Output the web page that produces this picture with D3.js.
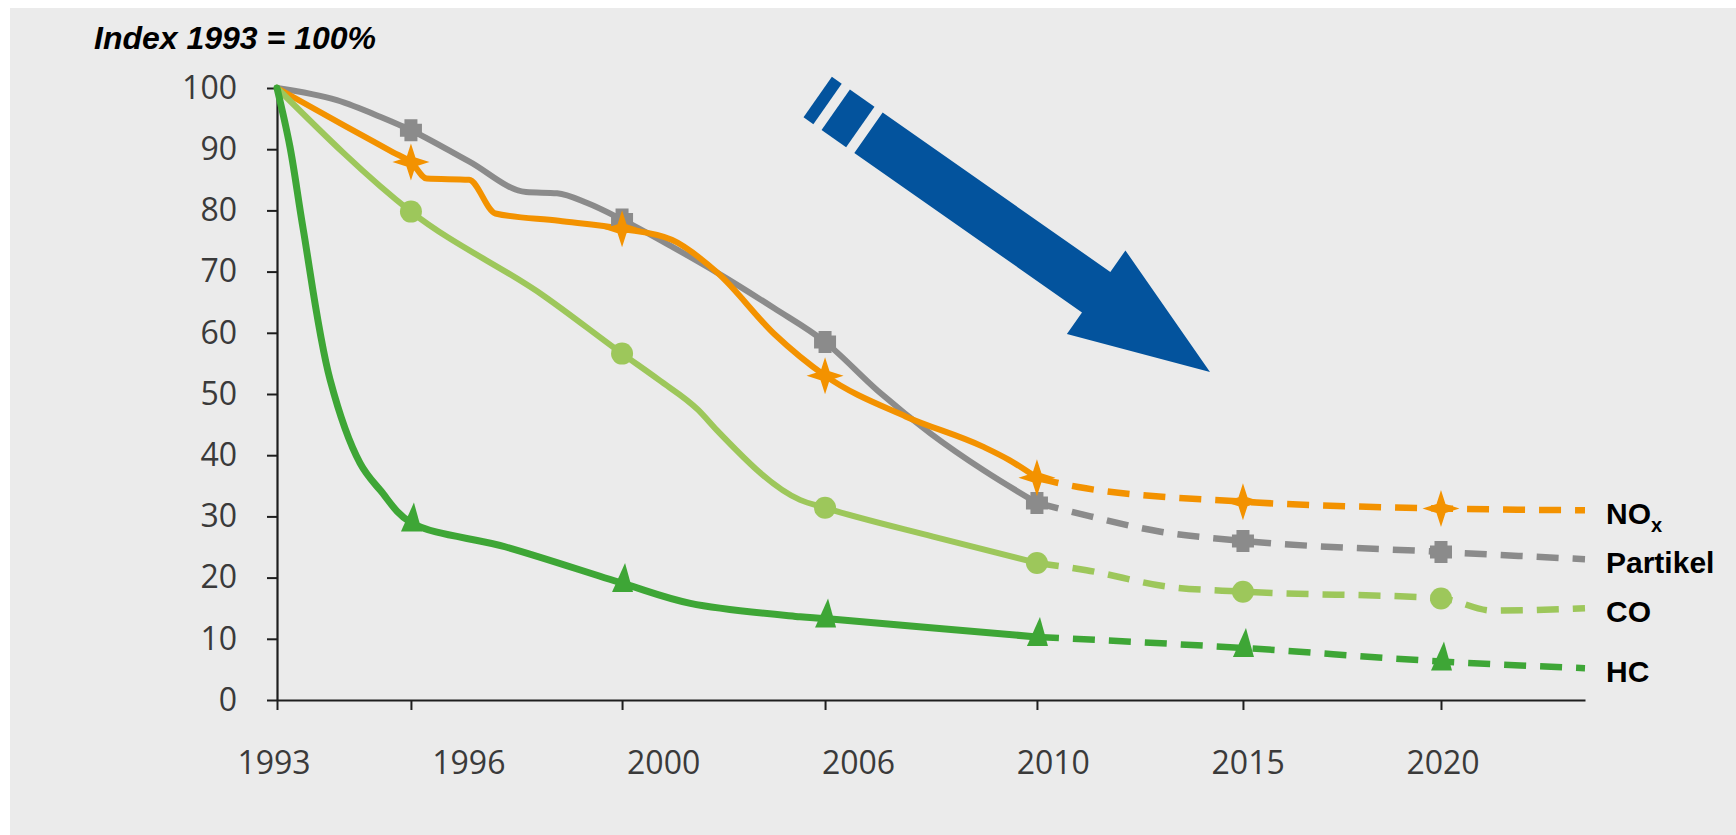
<!DOCTYPE html>
<html>
<head>
<meta charset="utf-8">
<script src="https://cdn.jsdelivr.net/npm/d3@7"></script>
<style>
  html, body { margin: 0; padding: 0; background: #ffffff; }
  figure { margin: 0; }
  svg { display: block; }
</style>
</head>
<body>
<figure id="chart"></figure>
<script>
// x axis stops (the original axis is not linear in time)
const tickYears = [1993, 1996, 2000, 2006, 2010, 2015, 2020];
const axisEndYear = 2023.6;
const yTicks = [0, 10, 20, 30, 40, 50, 60, 70, 80, 90, 100];
const markerYears = [1996, 2000, 2006, 2010, 2015, 2020];

// NOx
const noxYears = [1993, 1994.5, 1995.6, 1996, 1996.3, 1997.1, 1997.6, 1998.8, 2000, 2001.47, 2002.82, 2004.5, 2006, 2007.53, 2008.98, 2009.48, 2010];
const noxValues = [100, 93.9, 89.5, 87.9, 85.2, 85.0, 79.5, 78.3, 77.0, 75.2, 69.8, 59.8, 53.0, 46.3, 41.4, 39.2, 36.3];
const noxForecastYears = [2010, 2011, 2015, 2020, 2023.6];
const noxForecastValues = [36.3, 34.8, 32.4, 31.3, 31.0];

// Partikel
const partikelYears = [1993, 1994.34, 1995.31, 1996, 1997.1, 1998.18, 1998.77, 1999.34, 2000, 2001.5, 2002.82, 2004.5, 2006, 2007, 2008, 2009, 2010];
const partikelValues = [100, 98.0, 95.3, 93.1, 88.0, 83.0, 82.8, 81.2, 78.5, 74.0, 69.8, 64.0, 58.5, 50.5, 43.5, 37.5, 32.2];
const partikelForecastYears = [2010, 2011, 2013, 2015, 2020, 2023.6];
const partikelForecastValues = [32.2, 30.5, 27.5, 26.0, 24.2, 23.0];

// CO
const coYears = [1993, 1996, 1998.54, 2000, 2001.09, 2002.25, 2002.8, 2005.26, 2006, 2008.04, 2010];
const coValues = [100, 79.8, 65.9, 56.6, 52.3, 47.4, 44.1, 32.7, 31.4, 26.7, 22.4];
const coForecastYears = [2010, 2011.2, 2013.2, 2015, 2020, 2021.3, 2023.6];
const coForecastValues = [22.4, 21.2, 18.5, 17.7, 16.6, 14.6, 15.0];

// HC
const hcYears = [1993, 1993.29, 1993.59, 1994.19, 1994.86, 1995.31, 1996, 1997.8, 2000, 2002.02, 2005.26, 2006, 2010];
const hcValues = [100, 90.4, 76.8, 52.3, 38.7, 34.3, 29.0, 25.0, 19.1, 15.8, 13.6, 13.3, 10.3];
const hcForecastYears = [2010, 2015, 2020, 2023.6];
const hcForecastValues = [10.3, 8.5, 6.3, 5.2];

const zip = (years, values) => years.map((year, i) => ({ year: year, value: values[i] }));

const series = [
  { name: "Partikel", color: "#8b8b8b", marker: "plus",
    measured: zip(partikelYears, partikelValues), forecast: zip(partikelForecastYears, partikelForecastValues) },
  { name: "NOx", color: "#f39200", marker: "star",
    measured: zip(noxYears, noxValues), forecast: zip(noxForecastYears, noxForecastValues) },
  { name: "CO", color: "#9dc75b", marker: "circle",
    measured: zip(coYears, coValues), forecast: zip(coForecastYears, coForecastValues) },
  { name: "HC", color: "#3ea636", marker: "triangle",
    measured: zip(hcYears, hcValues), forecast: zip(hcForecastYears, hcForecastValues) }
];

const width = 1736, height = 835;
const plot = { left: 277, right: 1585, top: 88, bottom: 700 };
// relative spacing of the axis stops as laid out in the original figure
const stopFractions = [0, 0.1024, 0.2638, 0.4190, 0.5810, 0.7385, 0.8899, 1];

const svg = d3.select("figure#chart")
  .append("svg")
    .attr("width", width)
    .attr("height", height);

svg.append("rect")
    .attr("x", 10).attr("y", 8)
    .attr("width", width - 10).attr("height", height - 8)
    .attr("fill", "#ebebeb");

const x = d3.scaleLinear()
  .domain([...tickYears, axisEndYear])
  .range(stopFractions.map(f => plot.left + f * (plot.right - plot.left)));

const y = d3.scaleLinear()
  .domain([0, 100])
  .range([plot.bottom, plot.top]);

// title
svg.append("text")
    .attr("x", 94)
    .attr("y", 49)
    .style("font-family", "'Liberation Sans', Arial, sans-serif")
    .style("font-size", "32px")
    .style("font-weight", "bold")
    .style("font-style", "italic")
    .attr("fill", "#000")
    .text("Index 1993 = 100%");

// blue trend arrow, placed in chart units
const arrowFrom = { year: 2006.82, value: 92.7 };
const arrowTo = { year: 2014.2, value: 53.6 };
(function drawArrow() {
  const t = [x(arrowFrom.year), y(arrowFrom.value)];
  const p = [x(arrowTo.year), y(arrowTo.value)];
  const len = Math.hypot(p[0] - t[0], p[1] - t[1]);
  const u = [(p[0] - t[0]) / len, (p[1] - t[1]) / len];
  const n = [-u[1], u[0]];
  const pt = (s, w) => [t[0] + u[0] * s + n[0] * w, t[1] + u[1] * s + n[1] * w];
  const shaftW = 24.7, headW = 51, headLen = 139;
  const hs = len - headLen;
  const arrow = [pt(0, -shaftW), pt(hs, -shaftW), pt(hs, -headW), pt(len, 0),
                 pt(hs, headW), pt(hs, shaftW), pt(0, shaftW)];
  const bars = [[-40, -10], [-62, -50]].map(([a, b]) =>
    [pt(a, -shaftW), pt(b, -shaftW), pt(b, shaftW), pt(a, shaftW)]);
  svg.selectAll("polygon.arrow")
    .data([arrow, ...bars])
    .enter()
    .append("polygon")
      .attr("class", "arrow")
      .attr("points", d => d.map(q => q.join(",")).join(" "))
      .attr("fill", "#03539d");
})();

// axes
const yAxis = svg.append("g")
    .attr("transform", "translate(" + plot.left + ",0)")
    .call(d3.axisLeft(y).tickValues(yTicks).tickSize(10).tickSizeOuter(0).tickPadding(30));

const xAxis = svg.append("g")
    .attr("transform", "translate(0," + plot.bottom + ")")
    .call(d3.axisBottom(x).tickValues(tickYears).tickSize(10).tickSizeOuter(0).tickFormat(""));

[yAxis, xAxis].forEach(g => {
  g.select(".domain").attr("stroke", "#1e1e1e").attr("stroke-width", 2.2);
  g.selectAll(".tick line").attr("stroke", "#1e1e1e").attr("stroke-width", 2);
});
yAxis.selectAll(".tick text")
    .style("font-family", "'Open Sans', sans-serif")
    .style("font-size", "32px")
    .attr("fill", "#3a3a3a");

// year labels sit evenly spaced under the axis, as in the original
const labelX = d3.scalePoint()
  .domain(tickYears)
  .range([x(1993) - 3, x(2020) + 2]);

svg.selectAll("text.year")
  .data(tickYears)
  .enter()
  .append("text")
    .attr("class", "year")
    .attr("x", d => labelX(d))
    .attr("y", 774)
    .attr("text-anchor", "middle")
    .style("font-family", "'Open Sans', sans-serif")
    .style("font-size", "32px")
    .attr("fill", "#3a3a3a")
    .text(d => d);

// lines
const line = d3.line()
  .x(d => x(d.year))
  .y(d => y(d.value))
  .curve(d3.curveMonotoneX);

const smoothLine = d3.line()
  .x(d => x(d.year))
  .y(d => y(d.value))
  .curve(d3.curveCatmullRom.alpha(0.5));

series.forEach(s => {
  svg.append("path")
      .datum(s.forecast)
      .attr("d", line)
      .attr("fill", "none")
      .attr("stroke", s.color)
      .attr("stroke-width", 6.5)
      .attr("stroke-dasharray", "22,14");
  svg.append("path")
      .datum(s.measured)
      .attr("d", s.name === "HC" ? smoothLine : line)
      .attr("fill", "none")
      .attr("stroke", s.color)
      .attr("stroke-width", s.name === "HC" ? 7 : 6)
      .attr("stroke-linejoin", "round")
      .attr("stroke-linecap", "round");
});

// marker shapes
const shapes = {
  star: { draw(c) {
    const R = 18.5, r = 4.5;
    c.moveTo(0, -R); c.lineTo(r, -r); c.lineTo(R, 0); c.lineTo(r, r);
    c.lineTo(0, R); c.lineTo(-r, r); c.lineTo(-R, 0); c.lineTo(-r, -r); c.closePath();
  } },
  plus: { draw(c) {
    const a = 11, b = 6.5;
    c.moveTo(-b, -a); c.lineTo(b, -a); c.lineTo(b, -b); c.lineTo(a, -b); c.lineTo(a, b);
    c.lineTo(b, b); c.lineTo(b, a); c.lineTo(-b, a); c.lineTo(-b, b); c.lineTo(-a, b);
    c.lineTo(-a, -b); c.lineTo(-b, -b); c.closePath();
  } },
  circle: { draw(c) { c.moveTo(11, 0); c.arc(0, 0, 11, 0, 2 * Math.PI); } },
  triangle: { draw(c) {
    c.moveTo(-10, 9); c.lineTo(11, 9); c.lineTo(3, -20); c.closePath();
  } }
};

series.forEach(s => {
  const all = s.measured.concat(s.forecast);
  const pts = markerYears.map(yr => all.find(d => d.year === yr));
  svg.selectAll("path.m-" + s.marker)
    .data(pts)
    .enter()
    .append("path")
      .attr("class", "m-" + s.marker)
      .attr("transform", d => "translate(" + x(d.year) + "," + y(d.value) + ")")
      .attr("d", d3.symbol().type(shapes[s.marker]))
      .attr("fill", s.color);
});

// series labels at the end of each line
series.forEach(s => {
  const last = s.forecast[s.forecast.length - 1];
  const label = svg.append("text")
      .attr("x", x(last.year) + 21)
      .attr("y", y(last.value) + 14)
      .style("font-family", "'Liberation Sans', Arial, sans-serif")
      .style("font-size", "30px")
      .style("font-weight", "bold")
      .attr("fill", "#000");
  if (s.name === "NOx") {
    label.append("tspan").text("NO");
    label.append("tspan").attr("dy", 8).style("font-size", "20px").text("x");
  } else {
    label.text(s.name);
  }
});
</script>
</body>
</html>
